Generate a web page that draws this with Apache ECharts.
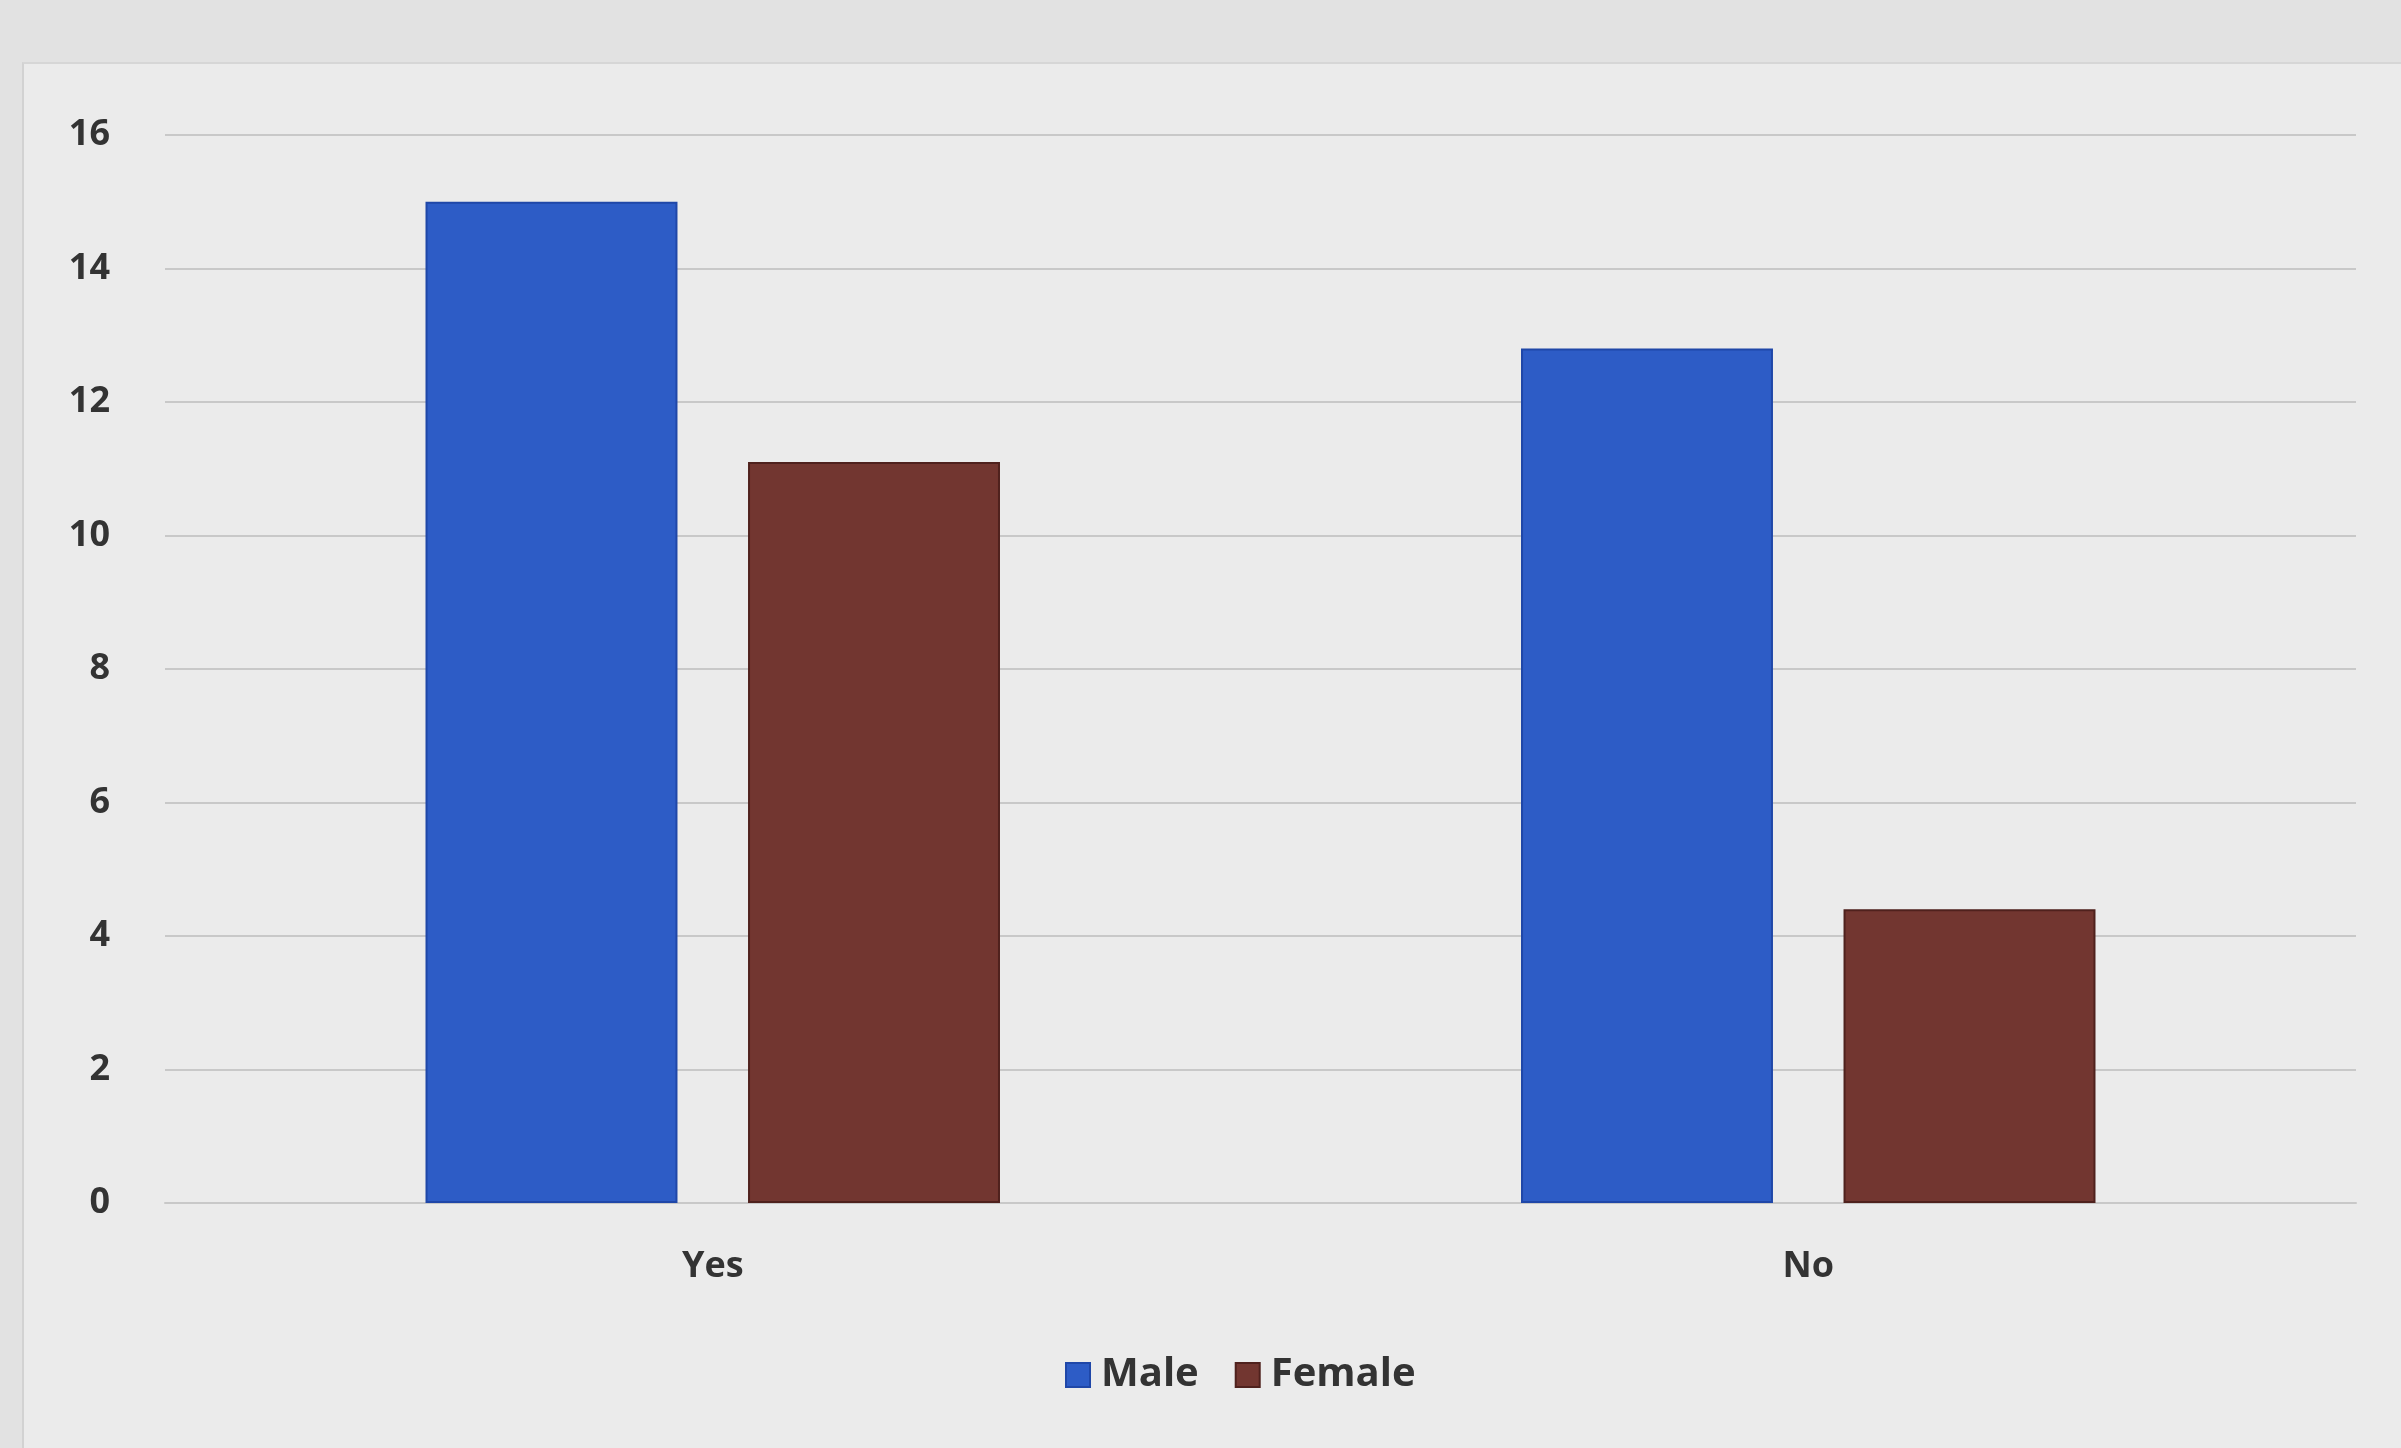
<!DOCTYPE html>
<html>
<head>
<meta charset="utf-8">
<title>Male / Female</title>
<script src="https://cdn.jsdelivr.net/npm/echarts@6/dist/echarts.min.js"></script>
<style>
  html, body { margin: 0; padding: 0; background: #e2e2e2; }
  #card {
    position: absolute; left: 22px; top: 62px; width: 2379px; height: 1386px;
    background: #ebebeb; border-left: 2px solid #d2d2d2; border-top: 2px solid #d6d6d6;
  }
  #chart { position: absolute; left: 0; top: 0; width: 2401px; height: 1448px; }
</style>
</head>
<body>
<div id="card"></div>
<div id="chart"></div>
<script>
  const categories = ['Yes', 'No'];
  const seriesNames = ['Male', 'Female'];
  const maleValues = [15, 12.8];
  const femaleValues = [11.1, 4.4];
  const yTicks = { min: 0, max: 16, interval: 2 };

  const chart = echarts.init(document.getElementById('chart'));

  const option = {
    backgroundColor: 'transparent',
    textStyle: { fontFamily: 'Open Sans, DejaVu Sans, sans-serif' },
    grid: { left: 165, right: 45, top: 135, bottom: 245 },
    legend: {
      data: seriesNames,
      icon: 'rect',
      bottom: 48,
      left: 1060,
      itemWidth: 24,
      itemHeight: 24,
      itemGap: 36,
      textStyle: { fontSize: 40, fontWeight: 'bold', color: '#333', padding: [0, 0, 0, 6] }
    },
    xAxis: {
      type: 'category',
      data: categories,
      axisLine: { show: true, lineStyle: { color: '#c8c8c8', width: 2 } },
      axisTick: { show: false },
      axisLabel: { fontSize: 36, fontWeight: 'bold', color: '#333', margin: 46 }
    },
    yAxis: {
      type: 'value',
      min: yTicks.min,
      max: yTicks.max,
      interval: yTicks.interval,
      axisLine: { show: false },
      axisTick: { show: false },
      axisLabel: { fontSize: 36, fontWeight: 'bold', color: '#333', margin: 55 },
      splitLine: { lineStyle: { color: '#c8c8c8', width: 2 } }
    },
    series: [
      {
        name: 'Male',
        type: 'bar',
        data: maleValues,
        barWidth: '23%',
        barGap: '28%',
        itemStyle: { color: '#2d5cc6', borderColor: '#1f47a8', borderWidth: 2 }
      },
      {
        name: 'Female',
        type: 'bar',
        data: femaleValues,
        barWidth: '23%',
        itemStyle: { color: '#723630', borderColor: '#4f211d', borderWidth: 2 }
      }
    ]
  };

  chart.setOption(option);
</script>
</body>
</html>
